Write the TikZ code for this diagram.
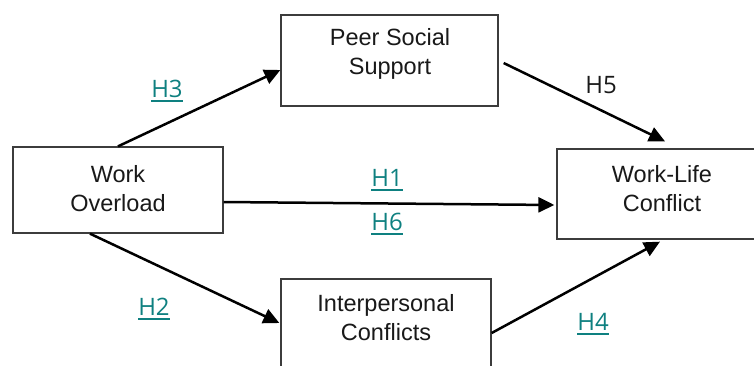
\documentclass[tikz,border=0pt]{standalone}
\usepackage{fontspec}
\setmainfont{Liberation Sans}
\newfontfamily\labfont{Open Sans}
\usetikzlibrary{arrows.meta}
\definecolor{hteal}{RGB}{14,128,128}
\definecolor{boxgray}{RGB}{60,60,60}
\newcommand\hlink[1]{\setbox0\hbox{#1}\rlap{\rule[-5pt]{\wd0}{1.9pt}}\box0}
\begin{document}
\begin{tikzpicture}[x=1pt,y=-1pt,
  boxstyle/.style={draw=boxgray,line width=1.3pt,rectangle,inner sep=0pt,fill=white},
  boxtext/.style={align=center,font=\fontsize{23.5}{29}\selectfont,inner sep=0pt,text=black!90},
  hyp/.style={font=\labfont\fontsize{24}{28}\selectfont,text=hteal,inner sep=0pt,anchor=base},
  hypplain/.style={font=\labfont\fontsize{24}{28}\selectfont,text=black!90,inner sep=0pt,anchor=base},
  conn/.style={line width=2.5pt,-{Triangle[length=16pt,width=15pt]}}]
\useasboundingbox (0,0) rectangle (754,365);
% boxes
\node[boxstyle,minimum width=210pt,minimum height=86pt] (wo) at (118,190) {};
\node[boxstyle,minimum width=217pt,minimum height=91pt] (pss) at (389.5,60.5) {};
\node[boxstyle,minimum width=210pt,minimum height=90pt] (wlc) at (662,194) {};
\node[boxstyle,minimum width=210pt,minimum height=90pt] (ic) at (386,324) {};
% box texts
\node[boxtext] (wot) at (118,189) {Work\\Overload};
\node[boxtext] (psst) at (390,53.5) {Peer Social\\Support};
\node[boxtext] (wlct) at (662,188.5) {Work-Life\\Conflict};
\node[boxtext] (ict) at (386,318) {Interpersonal\\Conflicts};
% connectors
\draw[conn] (wo.north) -- ([yshift=-9.5pt]pss.west);
\draw[conn] ([xshift=5pt,yshift=-2.5pt]pss.east) -- ([xshift=3pt,yshift=7pt]wlc.north);
\draw[conn] ([yshift=-12pt]wo.east) -- ([xshift=-2pt,yshift=-11pt]wlc.west);
\draw[conn] ([xshift=-28pt]wo.south) -- ([xshift=-1pt,yshift=1pt]ic.west);
\draw[conn] ([yshift=-9pt]ic.east) -- ([xshift=-2pt,yshift=-2pt]wlc.south);
% labels
\node[hyp] (h3) at (167,97) {\hlink{H3}};
\node[hypplain] (h5) at (601,93) {H5};
\node[hyp] (h1) at (387,186) {\hlink{H1}};
\node[hyp] (h6) at (387,230) {\hlink{H6}};
\node[hyp] (h2) at (154,315) {\hlink{H2}};
\node[hyp] (h4) at (593,330) {\hlink{H4}};
\end{tikzpicture}
\end{document}
